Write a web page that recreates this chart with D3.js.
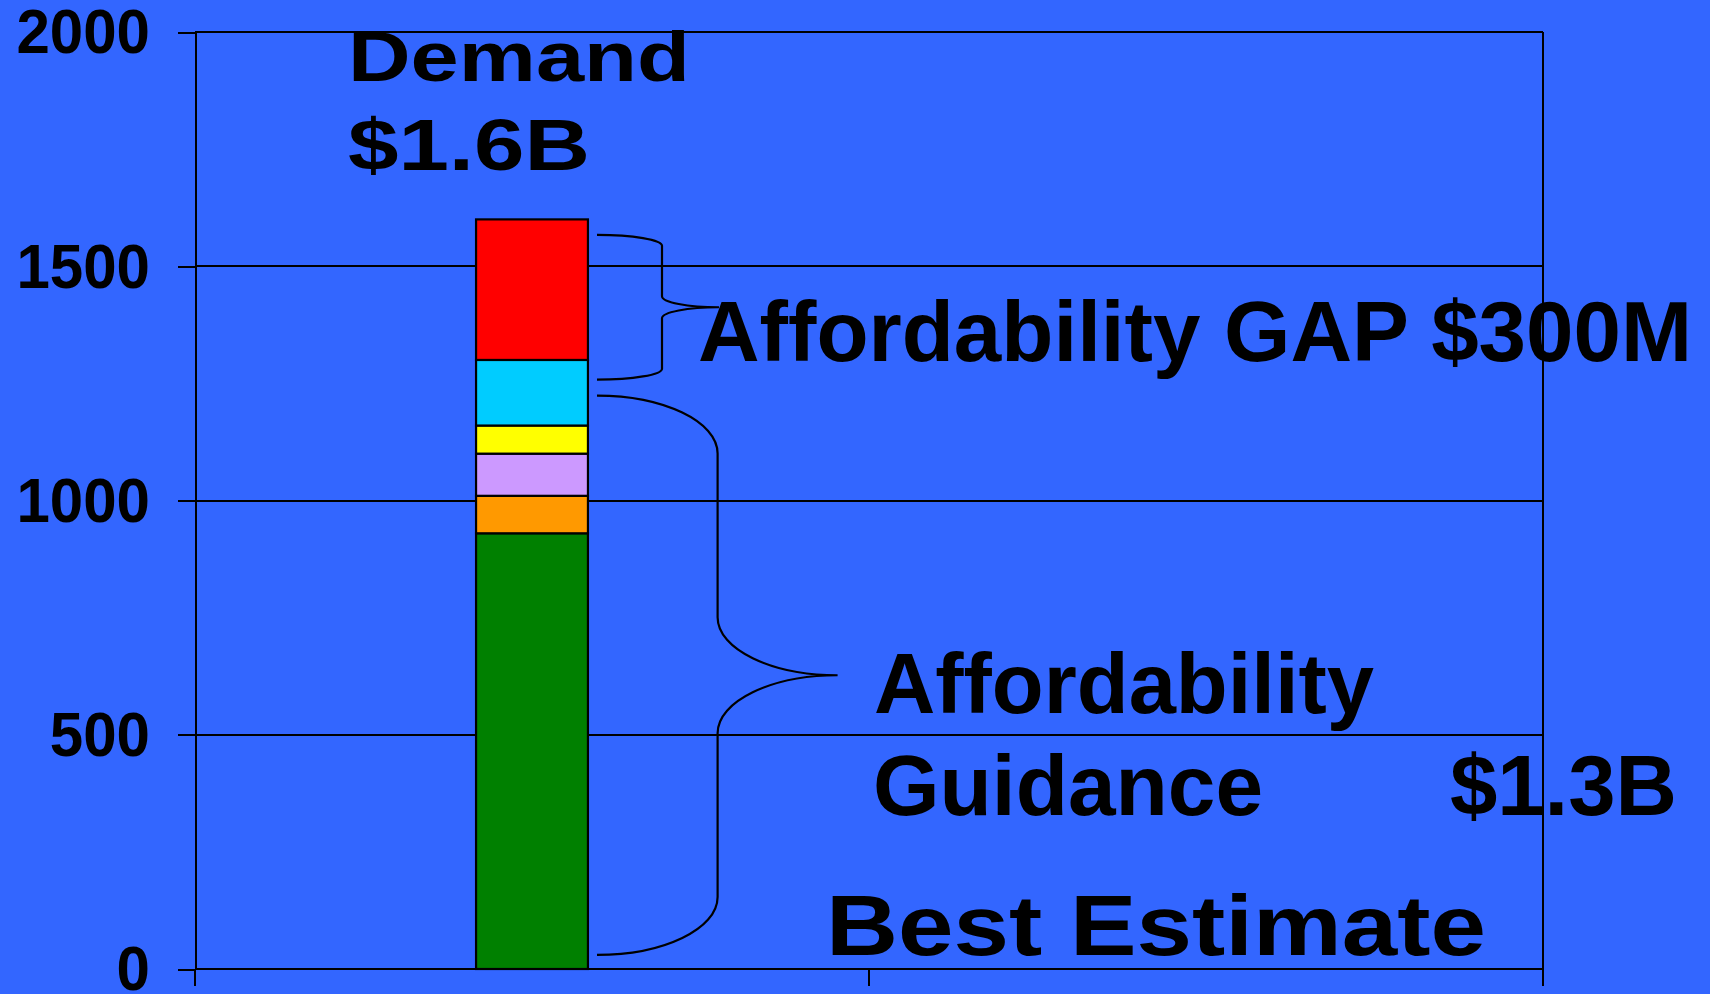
<!DOCTYPE html>
<html>
<head>
<meta charset="utf-8">
<script src="https://cdn.jsdelivr.net/npm/d3@7"></script>
<style>
  html, body { margin: 0; padding: 0; background: #3366ff; }
  svg { display: block; }
  text { font-family: "Liberation Sans", Arial, sans-serif; font-weight: bold; fill: #000; }
</style>
</head>
<body>
<svg width="1710" height="994"></svg>
<script>
// data
const categories = ["Best Estimate", "Alternative"];
const segmentKeys = ["base", "orange", "lavender", "yellow", "cyan", "gap"];
const segmentValues = [930, 80, 90, 60, 140, 300];
const segmentColors = ["#008000", "#ff9900", "#cc99ff", "#ffff00", "#00ccff", "#ff0000"];
const yTicks = [0, 500, 1000, 1500, 2000];
const braceRanges = [[1258, 1567], [30, 1224]];

const svg = d3.select("svg");
const width = +svg.attr("width");
const height = +svg.attr("height");
const lw = 2;

svg.append("rect").attr("width", width).attr("height", height).attr("fill", "#3366ff");

const plotLeft = 195, plotRight = 1543, plotTop = 32, plotBottom = 969;

const y = d3.scaleLinear().domain([0, 2000]).range([plotBottom, plotTop]);
const x = d3.scaleBand().domain(categories).range([plotLeft, plotRight]).padding(0);

// gridlines
svg.append("g")
    .attr("shape-rendering", "crispEdges")
    .selectAll("line")
    .data(yTicks)
    .join("line")
    .attr("x1", plotLeft)
    .attr("x2", plotRight)
    .attr("y1", d => Math.round(y(d)))
    .attr("y2", d => Math.round(y(d)))
    .attr("stroke", "#000")
    .attr("stroke-width", lw);

// y axis
const yAxis = svg.append("g")
    .attr("transform", `translate(${plotLeft},0)`)
    .attr("shape-rendering", "crispEdges")
    .call(d3.axisLeft(y).tickValues(yTicks).tickFormat(d3.format("d"))
        .tickSize(17).tickSizeOuter(0).tickPadding(28));
yAxis.select(".domain").attr("stroke", "#000").attr("stroke-width", lw);
yAxis.selectAll(".tick line").attr("stroke", "#000").attr("stroke-width", lw);
yAxis.selectAll(".tick text")
    .attr("font-size", 63)
    .attr("font-family", "Liberation Sans, Arial, sans-serif")
    .attr("font-weight", "bold")
    .attr("fill", "#000")
    .attr("dy", "0.33em")
    .attr("textLength", d => String(d).length * 33.4)
    .attr("lengthAdjust", "spacingAndGlyphs");

// x axis: ticks at the category boundaries, right one is the frame edge
const boundaries = categories.map(c => x(c)).concat([x.range()[1]]);
svg.append("g")
    .attr("shape-rendering", "crispEdges")
    .selectAll("line")
    .data(boundaries)
    .join("line")
    .attr("x1", d => d)
    .attr("x2", d => d)
    .attr("y1", (d, i) => i === boundaries.length - 1 ? plotTop : plotBottom)
    .attr("y2", plotBottom + 17)
    .attr("stroke", "#000")
    .attr("stroke-width", lw);

// stacked bar
const row = { cat: categories[0] };
segmentKeys.forEach((k, i) => row[k] = segmentValues[i]);
const series = d3.stack().keys(segmentKeys)([row]);

const barW = x.bandwidth() * 0.166;
svg.append("g")
    .selectAll("rect")
    .data(series)
    .join("rect")
    .attr("x", x(categories[0]) + (x.bandwidth() - barW) / 2)
    .attr("width", barW)
    .attr("y", d => y(d[0][1]))
    .attr("height", d => y(d[0][0]) - y(d[0][1]))
    .attr("fill", (d, i) => segmentColors[i])
    .attr("stroke", "#000")
    .attr("stroke-width", 2.2);

// braces
function bracePath(x0, xv, xt, yTop, yBot, r) {
    const k = 0.5523;
    const yMid = (yTop + yBot) / 2;
    const p = d3.path();
    p.moveTo(x0, yTop);
    p.bezierCurveTo(x0 + k * (xv - x0), yTop, xv, yTop + r * (1 - k), xv, yTop + r);
    p.lineTo(xv, yMid - r);
    p.bezierCurveTo(xv, yMid - r * (1 - k), xt - k * (xt - xv), yMid, xt, yMid);
    p.bezierCurveTo(xt - k * (xt - xv), yMid, xv, yMid + r * (1 - k), xv, yMid + r);
    p.lineTo(xv, yBot - r);
    p.bezierCurveTo(xv, yBot - r * (1 - k), x0 + k * (xv - x0), yBot, x0, yBot);
    return p.toString();
}

const braceShapes = [
    { x0: 597, xv: 662, xt: 719, r: 11 },
    { x0: 597, xv: 717.6, xt: 837.6, r: 58 }
];

svg.append("g")
    .selectAll("path")
    .data(braceRanges)
    .join("path")
    .attr("d", (d, i) => {
        const s = braceShapes[i];
        return bracePath(s.x0, s.xv, s.xt, y(d[1]), y(d[0]), s.r);
    })
    .attr("fill", "none")
    .attr("stroke", "#000")
    .attr("stroke-width", 2.2);

// annotation texts
const labels = [
    { t: "Demand", x: 348, y: 81, fs: 70, len: 342 },
    { t: "$1.6B", x: 348, y: 170, fs: 72, len: 242 },
    { t: "Affordability GAP $300M", x: 698, y: 361, fs: 86, len: 994 },
    { t: "Affordability", x: 874, y: 713, fs: 85, len: 500 },
    { t: "Guidance", x: 873, y: 815, fs: 85, len: 390 },
    { t: "$1.3B", x: 1450, y: 815, fs: 86, len: 227 },
    { t: "Best Estimate", x: 826, y: 955, fs: 86, len: 660 }
];

svg.append("g")
    .selectAll("text")
    .data(labels)
    .join("text")
    .attr("x", d => d.x)
    .attr("y", d => d.y)
    .attr("font-size", d => d.fs)
    .attr("textLength", d => d.len)
    .attr("lengthAdjust", "spacingAndGlyphs")
    .text(d => d.t);
</script>
</body>
</html>
